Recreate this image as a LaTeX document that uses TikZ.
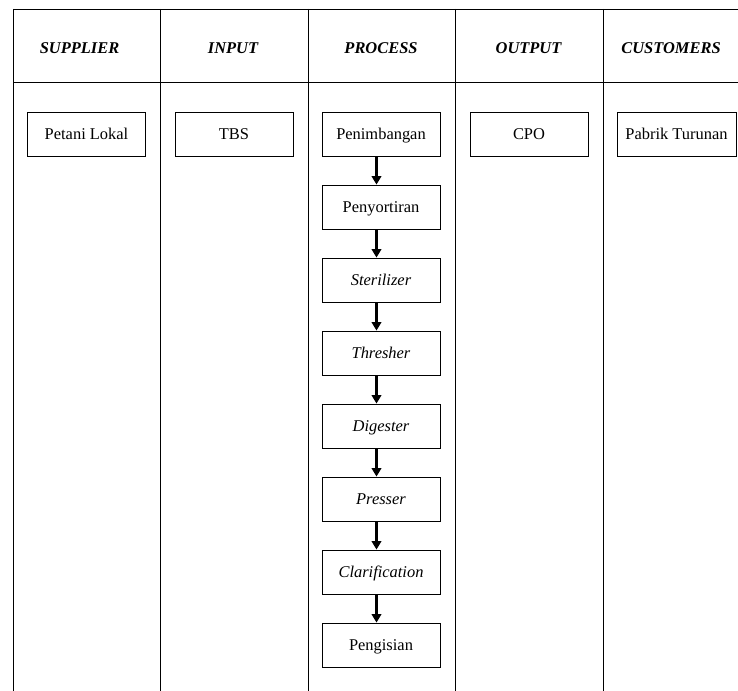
\documentclass[tikz,border=0pt]{standalone}
\usepackage{fontspec}
\setmainfont{Liberation Serif}
\usetikzlibrary{arrows.meta}
\begin{document}
\begin{tikzpicture}[x=1bp,y=-1bp,
  every node/.style={font=\fontsize{16.5}{20}\selectfont},
  hdr/.style={font=\fontsize{16.5}{20}\selectfont\bfseries\itshape,text height=11bp,text depth=0bp},
  box/.style={draw,line width=0.8bp,minimum width=118bp,minimum height=44bp,inner sep=0pt,text height=11bp,text depth=0bp},
  grid/.style={line width=0.8bp},
  flow/.style={line width=3bp,-{Triangle[width=9.5bp,length=8.5bp]}}]
\useasboundingbox (0,0) rectangle (738,691);
% table lines
\draw[grid] (13,9) -- (738,9);
\draw[grid] (13,82) -- (738,82);
\foreach \x in {13,160,308,455,603} \draw[grid] (\x,9) -- (\x,691);
% headers
\node[hdr] (h1) at (79.5,48) {SUPPLIER};
\node[hdr] (h2) at (233,48) {INPUT};
\node[hdr] (h3) at (381,48) {PROCESS};
\node[hdr] (h4) at (528.5,48) {OUTPUT};
\node[hdr] (h5) at (671,48) {CUSTOMERS};
% boxes
\node[box] (sup) at (86.5,134) {Petani Lokal};
\node[box] (inp) at (234,134) {TBS};
\node[box] (out) at (529,134) {CPO};
\node[box,minimum width=119bp] (cus) at (676.5,134) {Pabrik Turunan};
\node[box] (p1) at (381,134) {Penimbangan};
\node[box] (p2) at (381,207) {Penyortiran};
\node[box] (p3) at (381,280) {\itshape Sterilizer};
\node[box] (p4) at (381,353) {\itshape Thresher};
\node[box] (p5) at (381,426) {\itshape Digester};
\node[box] (p6) at (381,499) {\itshape Presser};
\node[box] (p7) at (381,572) {\itshape Clarification};
\node[box] (p8) at (381,645) {Pengisian};
% arrows
\foreach \a/\b in {p1/p2,p2/p3,p3/p4,p4/p5,p5/p6,p6/p7,p7/p8}
  \draw[flow] ([xshift=-4.5bp]\a.south) -- ([xshift=-4.5bp]\b.north);
\end{tikzpicture}
\end{document}
